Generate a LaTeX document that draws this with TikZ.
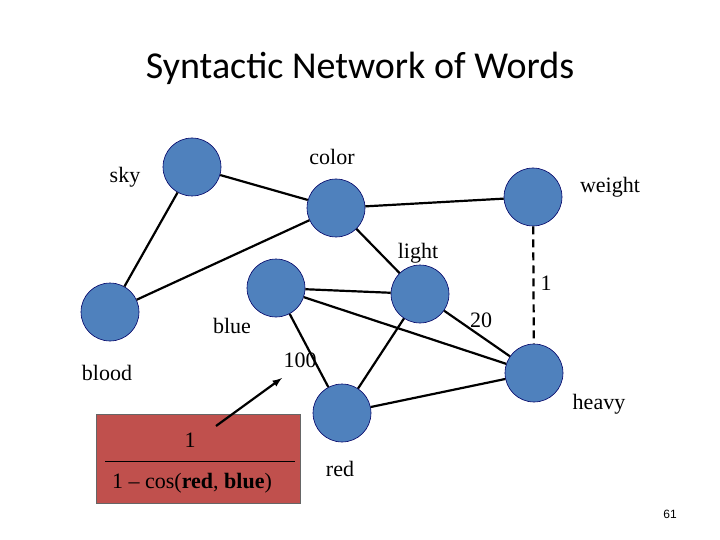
\documentclass[tikz,border=0pt]{standalone}
\usepackage{fontspec}
\setmainfont{Liberation Serif}
\newfontfamily\titlefont{Carlito}
\newfontfamily\numfont{Liberation Sans}
\begin{document}
\begin{tikzpicture}[x=1pt,y=-1pt,
    word/.style={circle, draw=blue!40!black, line width=0.6pt, fill={rgb,255:red,79;green,129;blue,189}, minimum size=58pt, inner sep=0pt},
    lbl/.style={font=\fontsize{22}{26}\selectfont, inner sep=0pt},
    edge/.style={line width=2.2pt}]
  \useasboundingbox (0,0) rectangle (720,540);
  \node (title) at (360,68) {\titlefont\fontsize{38}{44}\selectfont Syntactic Network of Words};

  \node[word] (sky) at (192,167) {};
  \node[word] (color) at (336,208) {};
  \node[word] (weight) at (533,197) {};
  \node[word] (light) at (420,294) {};
  \node[word] (blue) at (276,288) {};
  \node[word] (blood) at (110,312) {};
  \node[word] (heavy) at (534,373) {};
  \node[word] (red) at (342,413) {};

  \node[lbl] (lsky) at (125,177) {sky};
  \node[lbl] (lcolor) at (332,157) {color};
  \node[lbl] (lweight) at (610,187) {weight};
  \node[lbl] (llight) at (418,253) {light};
  \node[lbl] (lblue) at (232,326) {blue};
  \node[lbl] (lblood) at (107,373) {blood};
  \node[lbl] (lheavy) at (599,404) {heavy};
  \node[lbl] (lred) at (340,469) {red};
  \node[lbl] (w1) at (546,283) {1};
  \node[lbl] (w20) at (481,320) {20};
  \node[lbl] (w100) at (300,360) {100};

  \draw[edge] (sky) -- (blood);
  \draw[edge] (sky) -- (color);
  \draw[edge] (color) -- (weight);
  \draw[edge] (blood) -- (color);
  \draw[edge] (color) -- (light);
  \draw[edge] (blue) -- (light);
  \draw[edge] (blue) -- (red);
  \draw[edge] (blue) -- (heavy);
  \draw[edge] (light) -- (red);
  \draw[edge] (light) -- (heavy);
  \draw[edge] (red) -- (heavy);
  \draw[edge, dashed, dash pattern=on 8pt off 5pt] (weight) -- (heavy);

  \node (box) [draw=black!60, line width=0.6pt, fill={rgb,255:red,192;green,80;blue,77}, minimum width=204pt, minimum height=89pt, inner sep=0pt] at (198,459) {};
  \node[lbl] (num) at (190,440) {1};
  \coordinate (fl) at (105,461);
  \coordinate (fr) at (295,461);
  \draw[line width=0.6pt] (fl) -- (fr);
  \node[lbl] (den) at (192,483) {1 -- cos(\textbf{red}, \textbf{blue})};
  \coordinate (tip) at (282,378);
  \coordinate (tail) at (216,426);
  \draw[edge, -latex] (tail) -- (tip);

  \node (page) at (670,514) {\numfont\fontsize{12}{14}\selectfont 61};
\end{tikzpicture}
\end{document}
